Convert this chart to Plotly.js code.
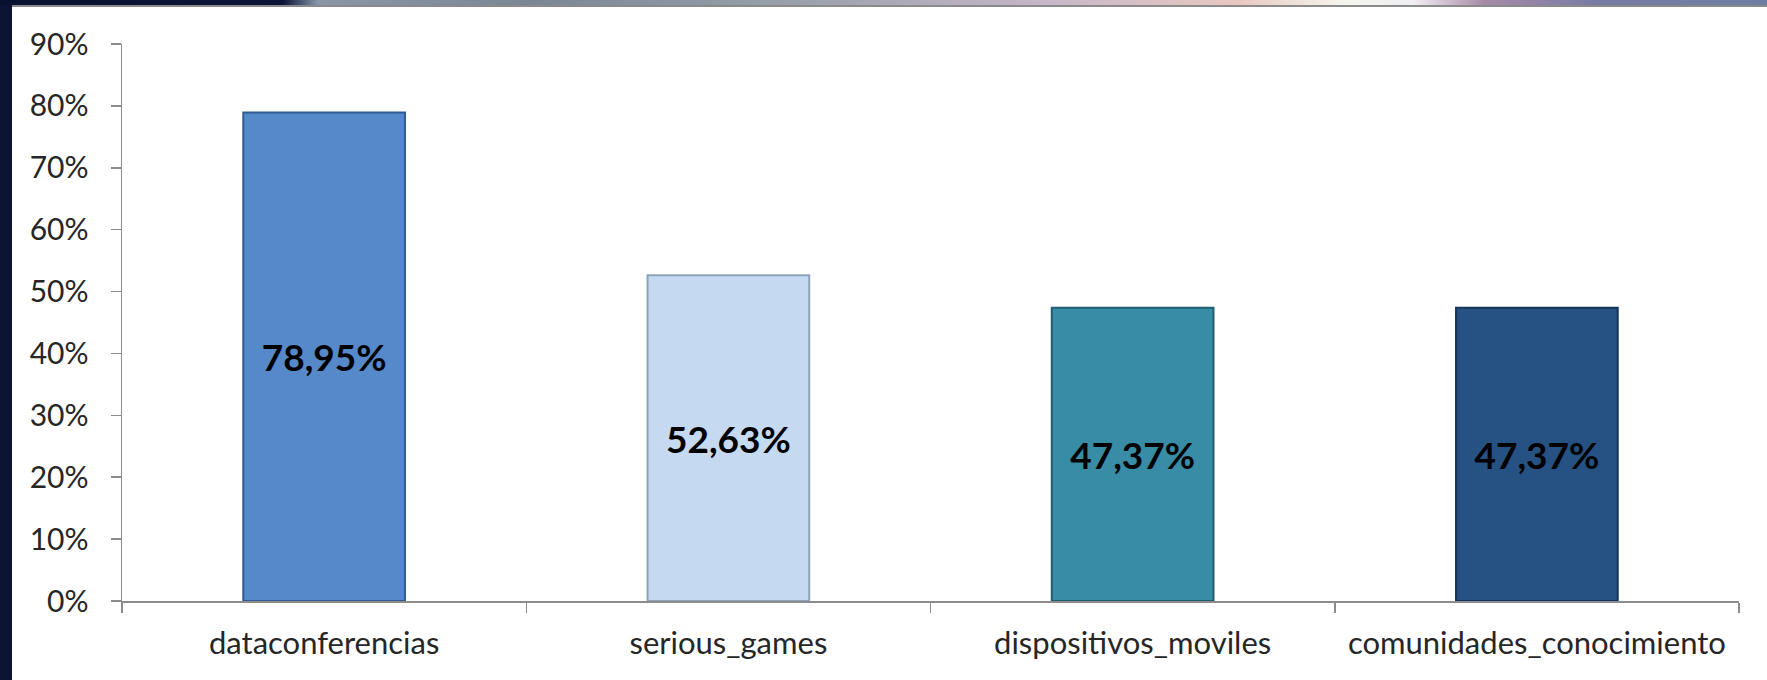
<!DOCTYPE html>
<html>
<head>
<meta charset="utf-8">
<script src="https://cdn.plot.ly/plotly-3.0.1.min.js"></script>
<style>
  html, body { margin: 0; padding: 0; width: 1767px; height: 680px; overflow: hidden; background: #0b1433; }
  #band { position: absolute; left: 0; top: 0; width: 1767px; height: 5px;
    background: linear-gradient(to right, #08112e 0%, #0a1438 16%, #8896a8 18%, #7a8694 30%, #9aa0ae 45%, #c9b8c8 60%, #e8c8c0 70%, #f4f6ee 76%, #f0eef2 80%, #a88aa8 84%, #7a7ca6 90%, #6c7ea4 100%); }
  #line { position: absolute; left: 12px; top: 5px; width: 1755px; height: 2px; background: #8a8a8a; }
  #chart { position: absolute; left: 12px; top: 7px; width: 1755px; height: 673px; }
</style>
</head>
<body>
<div id="band"></div>
<div id="line"></div>
<div id="chart"></div>
<script>
const categories = ["dataconferencias", "serious_games", "dispositivos_moviles", "comunidades_conocimiento"];
const values = [78.95, 52.63, 47.37, 47.37];
const barColors = ["#5589c9", "#c5d9f0", "#388ca6", "#265183"];
const edgeColors = ["#2f5d92", "#8ea3bb", "#1f5d70", "#16345a"];
const yTickVals = [0, 10, 20, 30, 40, 50, 60, 70, 80, 90];
const yTickText = ["0%", "10%", "20%", "30%", "40%", "50%", "60%", "70%", "80%", "90%"];
const labels = values.map(v => v.toFixed(2).replace('.', ',') + '%');

const trace = {
  type: 'bar',
  x: categories,
  y: values,
  text: labels,
  textposition: 'inside',
  insidetextanchor: 'middle',
  textangle: 0,
  textfont: { family: 'Lato, "Open Sans", sans-serif', size: 37, color: '#000000', weight: 'bold' },
  marker: { color: barColors, line: { color: edgeColors, width: 2 } },
  hoverinfo: 'none'
};

const layout = {
  width: 1755,
  height: 673,
  paper_bgcolor: '#ffffff',
  plot_bgcolor: '#ffffff',
  margin: { l: 110, r: 28, t: 37, b: 79 },
  bargap: 0.6,
  showlegend: false,
  font: { family: 'Lato, "Open Sans", sans-serif', color: '#262626' },
  xaxis: {
    type: 'category',
    showline: true,
    linecolor: '#8c8c8c',
    linewidth: 1.5,
    ticks: 'outside',
    tickson: 'boundaries',
    ticklen: 10,
    tickcolor: '#8c8c8c',
    tickwidth: 1.5,
    showgrid: false,
    ticklabelstandoff: 14,
    tickfont: { size: 31, color: '#262626' },
    zeroline: false
  },
  yaxis: {
    range: [0, 90],
    tickmode: 'array',
    tickvals: yTickVals,
    ticktext: yTickText,
    showline: true,
    linecolor: '#8c8c8c',
    linewidth: 1.5,
    ticks: 'outside',
    ticklen: 10,
    tickcolor: '#8c8c8c',
    tickwidth: 1.5,
    showgrid: false,
    zeroline: false,
    ticklabelstandoff: 16,
    tickfont: { size: 30, color: '#262626' }
  }
};

Plotly.newPlot('chart', [trace], layout, { staticPlot: true, displayModeBar: false });
</script>
</body>
</html>
